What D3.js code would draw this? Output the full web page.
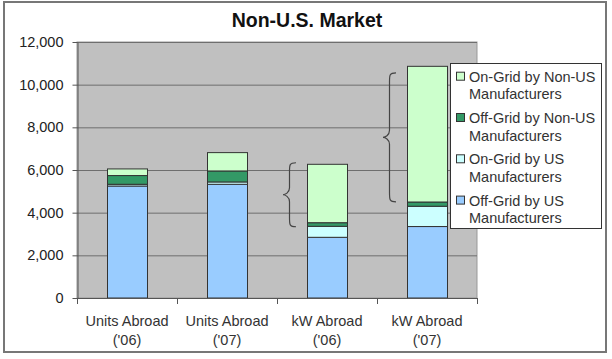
<!DOCTYPE html>
<html>
<head>
<meta charset="utf-8">
<script src="https://cdn.jsdelivr.net/npm/d3@7"></script>
<style>
  body { margin: 0; background: #fff; }
  text { font-family: "Liberation Sans", Arial, sans-serif; fill: #222; }
</style>
</head>
<body>
<div id="chart"></div>
<script>
// chart data
const categories = ["Units Abroad ('06)", "Units Abroad ('07)", "kW Abroad ('06)", "kW Abroad ('07)"];
const categoryLines = [["Units Abroad", "('06)"], ["Units Abroad", "('07)"], ["kW Abroad", "('06)"], ["kW Abroad", "('07)"]];
const offGridUS = [5250, 5330, 2845, 3350];
const onGridUS = [80, 110, 515, 950];
const offGridNonUS = [410, 515, 170, 200];
const onGridNonUS = [310, 860, 2737, 6360];
const yTicks = [0, 2000, 4000, 6000, 8000, 10000, 12000];

// series names and colours, bottom to top
const seriesNames = ["Off-Grid by US Manufacturers", "On-Grid by US Manufacturers",
  "Off-Grid by Non-US Manufacturers", "On-Grid by Non-US Manufacturers"];
const seriesColors = ["#99ccff", "#ccffff", "#339966", "#ccffcc"];
const seriesValues = [offGridUS, onGridUS, offGridNonUS, onGridNonUS];

// braces next to the kW bars (category, top value, bottom value)
const braceCats = ["kW Abroad ('06)", "kW Abroad ('07)"];
const braceTop = [6340, 10550];
const braceBottom = [3340, 4510];

const W = 612, H = 359;
const plot = { left: 77, right: 477, top: 42, bottom: 298 };

const svg = d3.select("#chart").append("svg")
  .attr("width", W).attr("height", H);

// outer frame
svg.append("rect")
  .attr("x", 4).attr("y", 2).attr("width", 602).attr("height", 350)
  .attr("fill", "#fff").attr("stroke", "#777").attr("stroke-width", 2);

// title
svg.append("text")
  .attr("x", 307).attr("y", 27)
  .attr("text-anchor", "middle")
  .style("font-size", "19.5px").style("font-weight", "bold")
  .style("fill", "#111")
  .text("Non-U.S. Market");

// scales
const x = d3.scaleBand()
  .domain(categories)
  .range([plot.left, plot.right])
  .paddingInner(0.6).paddingOuter(0.3);

const y = d3.scaleLinear()
  .domain([0, 12000])
  .range([plot.bottom, plot.top]);

// plot area
svg.append("rect")
  .attr("x", plot.left).attr("y", plot.top)
  .attr("width", plot.right - plot.left).attr("height", plot.bottom - plot.top)
  .attr("fill", "#c0c0c0").attr("stroke", "#999").attr("stroke-width", 1);

// gridlines
svg.append("g")
  .selectAll("line")
  .data(yTicks.filter((d) => d > 0))
  .enter().append("line")
  .attr("x1", plot.left).attr("x2", plot.right)
  .attr("y1", (d) => y(d) + 0.5).attr("y2", (d) => y(d) + 0.5)
  .attr("stroke", "#6e6e6e").attr("stroke-width", 1);

// stack the series
const table = categories.map((c, i) => {
  const row = { cat: c };
  seriesNames.forEach((s, j) => { row[s] = seriesValues[j][i]; });
  return row;
});
const stacked = d3.stack().keys(seriesNames)(table);

svg.append("g")
  .selectAll("g")
  .data(stacked)
  .enter().append("g")
  .attr("fill", (d, i) => seriesColors[i])
  .selectAll("rect")
  .data((d) => d)
  .enter().append("rect")
  .attr("x", (d) => x(d.data.cat) + 0.5)
  .attr("y", (d) => y(d[1]))
  .attr("width", x.bandwidth())
  .attr("height", (d) => y(d[0]) - y(d[1]))
  .attr("stroke", "#333").attr("stroke-width", 1);

// y axis
const yAxis = svg.append("g")
  .attr("transform", `translate(${plot.left + 0.5},0)`)
  .call(d3.axisLeft(y).tickValues(yTicks).tickFormat(d3.format(",")).tickSize(5).tickSizeOuter(0));
yAxis.select(".domain").attr("stroke", "#555");
yAxis.selectAll(".tick line").attr("stroke", "#555");
yAxis.selectAll(".tick text")
  .attr("x", -14)
  .style("font-size", "14.5px")
  .attr("fill", "#333");

// x axis: line plus ticks at category boundaries
const xAxis = svg.append("g");
xAxis.append("line")
  .attr("x1", plot.left).attr("x2", plot.right)
  .attr("y1", plot.bottom + 0.5).attr("y2", plot.bottom + 0.5)
  .attr("stroke", "#555");
const boundaries = d3.range(categories.length + 1).map((i) => plot.left + i * x.step());
xAxis.selectAll(".xt")
  .data(boundaries)
  .enter().append("line")
  .attr("x1", (d) => d + 0.5).attr("x2", (d) => d + 0.5)
  .attr("y1", plot.bottom).attr("y2", plot.bottom + 6)
  .attr("stroke", "#555");

// category labels (two lines)
const labels = xAxis.selectAll(".cl")
  .data(categories)
  .enter().append("text")
  .attr("text-anchor", "middle")
  .style("font-size", "14.5px")
  .style("fill", "#333");
labels.each(function (d, i) {
  const t = d3.select(this);
  categoryLines[i].forEach((line, k) => {
    t.append("tspan")
      .attr("x", x(d) + x.bandwidth() / 2)
      .attr("y", 326 + k * 19)
      .text(line);
  });
});

// braces pointing left
function bracePath(xr, y1, y2, w) {
  const ym = (y1 + y2) / 2;
  const xm = xr - w / 2;
  const xl = xr - w;
  return `M${xr},${y1} C${xm},${y1} ${xm},${y1 + 2} ${xm},${y1 + 9} L${xm},${ym - 7} C${xm},${ym - 2} ${xl + 2},${ym} ${xl},${ym}` +
    ` C${xl + 2},${ym} ${xm},${ym + 2} ${xm},${ym + 7} L${xm},${y2 - 9} C${xm},${y2 - 2} ${xm},${y2} ${xr},${y2}`;
}
svg.append("g")
  .selectAll("path")
  .data(braceCats)
  .enter().append("path")
  .attr("d", (d, i) => bracePath(x(d) - 11, y(braceTop[i]), y(braceBottom[i]), 13))
  .attr("fill", "none").attr("stroke", "#444").attr("stroke-width", 1.2);

// legend
const legend = svg.append("g");
legend.append("rect")
  .attr("x", 450.5).attr("y", 63.5).attr("width", 151).attr("height", 165)
  .attr("fill", "#fff").attr("stroke", "#333").attr("stroke-width", 1);

const legendOrder = [3, 2, 1, 0]; // top to bottom as in the picture
legendOrder.forEach((s, k) => {
  const mid = 76.7 + k * 41.3; // centre of first text line
  const parts = seriesNames[s].split(" Manufacturers");
  legend.append("rect")
    .attr("x", 456.5).attr("y", mid - 4.5)
    .attr("width", 8).attr("height", 8)
    .attr("fill", seriesColors[s]).attr("stroke", "#333");
  legend.append("text")
    .attr("x", 469).attr("y", mid + 5)
    .style("font-size", "14.5px").style("fill", "#333")
    .text(parts[0]);
  legend.append("text")
    .attr("x", 469).attr("y", mid + 5 + 17.7)
    .style("font-size", "14.5px").style("fill", "#333")
    .text("Manufacturers");
});
</script>
</body>
</html>
